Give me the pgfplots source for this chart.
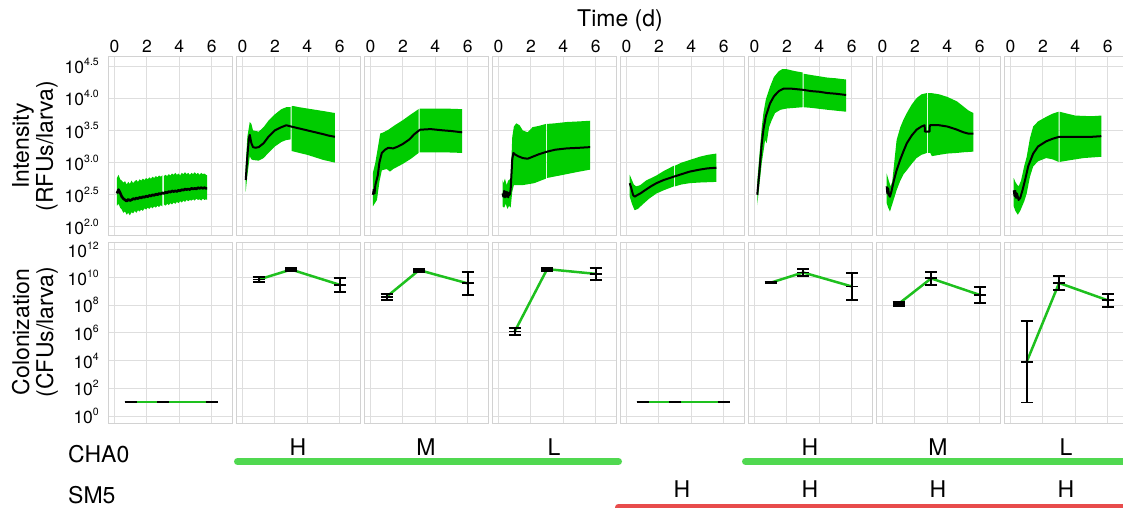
\documentclass[border=0pt]{standalone}
\usepackage{fontspec}
\setmainfont{TeX Gyre Heros}
\usepackage{pgfplots}
\pgfplotsset{compat=1.18}
\usepgfplotslibrary{fillbetween}

\definecolor{bandgreen}{RGB}{0,204,0}
\definecolor{linegreen}{RGB}{30,192,30}
\definecolor{barGreen}{RGB}{80,216,80}
\definecolor{barRed}{RGB}{232,76,76}
\definecolor{bordercol}{RGB}{210,210,210}
\definecolor{gridcol}{RGB}{222,222,222}

\newcommand{\ticksz}{\fontsize{17.5}{18}\selectfont}
\newcommand{\titlesz}{\fontsize{23}{24}\selectfont}
\newcommand{\pw}[1]{10\raisebox{0.46em}{\fontsize{10.5}{11}\selectfont #1}}

\pgfplotsset{
  panel/.style={
    scale only axis, width=124pt,
    xmin=-0.4, xmax=7.25,
    xtick={0,2,4,6},
    /pgf/number format/assume math mode=true,
    axis line style={draw=bordercol, line width=1pt},
    grid=major,
    major grid style={draw=gridcol, line width=1pt},
    major tick length=0pt,
    tick label style={font=\ticksz},
    yticklabel style={inner sep=0pt, xshift=-9pt},
  },
  intensity/.style={panel, height=178pt, ymin=1.875, ymax=4.64,
    ytick={2,2.5,3,3.5,4,4.5}, yticklabels={},
    xticklabel pos=upper,
    xticklabels={0,2,4,6},
    xticklabel style={inner sep=0pt, yshift=4pt}},
  colonization/.style={panel, height=181pt, ymin=-0.5, ymax=12.57,
    ytick={0,2,4,6,8,10,12}, yticklabels={}, xticklabels={}},
  band/.style={bandgreen, draw=none},
  meanline/.style={black, line width=2pt, line join=round},
  cfu/.style={linegreen, line width=2.5pt},
  errb/.style={black, line width=1.9pt, mark=-, mark size=6pt, only marks,
    error bars/.cd, y dir=both, y explicit,
    error mark=|,
    error bar style={line width=1.9pt, black},
    error mark options={black, line width=1.9pt, mark size=6pt}},
}

\begin{document}
\begin{tikzpicture}

% ---------------- Intensity (RFUs/larva), log10 scale ----------------
% Each band is split in two at the reading break near day 3.
% panel 1: control
\begin{axis}[intensity, at={(108pt,-57pt)}, anchor=north west,
  yticklabels={\pw{2.0},\pw{2.5},\pw{3.0},\pw{3.5},\pw{4.0},\pw{4.5}}]
\addplot[name path=u1a, draw=none] coordinates {
(0.15,2.76)(0.25,2.81)(0.35,2.74)(0.45,2.72)(0.55,2.69)(0.65,2.71)(0.75,2.66)(0.85,2.70)(0.95,2.67)(1.05,2.72)
(1.15,2.68)(1.25,2.71)(1.35,2.73)(1.45,2.70)(1.55,2.74)(1.65,2.72)(1.75,2.75)(1.85,2.73)(1.95,2.76)(2.05,2.74)
(2.15,2.77)(2.25,2.75)(2.35,2.78)(2.45,2.76)(2.55,2.79)(2.65,2.77)(2.75,2.80)(2.85,2.78)(2.95,2.80)};
\addplot[name path=l1a, draw=none] coordinates {
(0.15,2.33)(0.25,2.36)(0.35,2.30)(0.45,2.27)(0.55,2.22)(0.65,2.24)(0.75,2.19)(0.85,2.22)(0.95,2.18)(1.05,2.23)
(1.15,2.21)(1.25,2.25)(1.35,2.22)(1.45,2.26)(1.55,2.24)(1.65,2.27)(1.75,2.25)(1.85,2.29)(1.95,2.27)(2.05,2.30)
(2.15,2.28)(2.25,2.31)(2.35,2.29)(2.45,2.32)(2.55,2.30)(2.65,2.33)(2.75,2.31)(2.85,2.34)(2.95,2.32)};
\addplot[name path=u1b, draw=none] coordinates {
(3.05,2.79)(3.15,2.81)(3.25,2.79)(3.35,2.82)(3.45,2.80)(3.55,2.83)(3.65,2.81)(3.75,2.84)(3.85,2.81)(3.95,2.83)(4.05,2.80)
(4.15,2.84)(4.25,2.82)(4.35,2.85)(4.45,2.82)(4.55,2.84)(4.65,2.81)(4.75,2.84)(4.85,2.82)(4.95,2.85)(5.05,2.82)
(5.15,2.84)(5.25,2.81)(5.35,2.84)(5.45,2.82)(5.55,2.83)(5.65,2.81)(5.72,2.80)};
\addplot[name path=l1b, draw=none] coordinates {
(3.05,2.35)(3.15,2.33)(3.25,2.36)(3.35,2.34)(3.45,2.37)(3.55,2.35)(3.65,2.38)(3.75,2.36)(3.85,2.39)(3.95,2.37)(4.05,2.40)
(4.15,2.38)(4.25,2.41)(4.35,2.39)(4.45,2.42)(4.55,2.40)(4.65,2.42)(4.75,2.41)(4.85,2.43)(4.95,2.41)(5.05,2.44)
(5.15,2.42)(5.25,2.43)(5.35,2.41)(5.45,2.44)(5.55,2.42)(5.65,2.43)(5.72,2.42)};
\addplot[band] fill between[of=u1a and l1a];
\addplot[band] fill between[of=u1b and l1b];
\addplot[meanline, line width=2.6pt] coordinates {
(0.15,2.52)(0.25,2.58)(0.35,2.53)(0.45,2.47)(0.55,2.44)(0.65,2.42)(0.75,2.40)(0.85,2.43)(0.95,2.41)(1.05,2.42)
(1.15,2.44)(1.25,2.43)(1.35,2.45)(1.45,2.44)(1.55,2.46)(1.65,2.45)(1.75,2.47)(1.85,2.46)(1.95,2.48)(2.05,2.47)
(2.15,2.49)(2.25,2.48)(2.35,2.50)(2.45,2.49)(2.55,2.51)(2.65,2.50)(2.75,2.52)(2.85,2.51)(2.95,2.53)(3.05,2.52)
(3.15,2.54)(3.25,2.53)(3.35,2.55)(3.45,2.54)(3.55,2.56)(3.65,2.55)(3.75,2.56)(3.85,2.55)(3.95,2.57)(4.05,2.56)
(4.15,2.58)(4.25,2.57)(4.35,2.59)(4.45,2.58)(4.55,2.59)(4.65,2.58)(4.75,2.60)(4.85,2.59)(4.95,2.60)(5.05,2.59)
(5.15,2.61)(5.25,2.60)(5.35,2.61)(5.45,2.60)(5.55,2.61)(5.65,2.60)(5.72,2.60)};
\end{axis}

% panel 2: CHA0 H
\begin{axis}[intensity, at={(236pt,-57pt)}, anchor=north west]
\addplot[name path=u2a, draw=none] coordinates {
(0.2,2.95)(0.3,3.40)(0.45,3.63)(0.55,3.60)(0.65,3.50)(1.0,3.48)(1.3,3.55)(1.6,3.65)(2.0,3.75)(2.4,3.83)
(2.7,3.86)(2.97,3.86)};
\addplot[name path=l2a, draw=none] coordinates {
(0.2,2.55)(0.3,2.80)(0.45,3.10)(0.55,3.05)(0.65,3.04)(1.0,3.03)(1.3,3.07)(1.6,3.15)(2.0,3.25)(2.4,3.32)
(2.7,3.35)(2.97,3.36)};
\addplot[name path=u2b, draw=none] coordinates {
(3.03,3.87)(3.1,3.88)(3.5,3.86)(4.0,3.84)(4.5,3.82)(5.0,3.80)(5.7,3.77)};
\addplot[name path=l2b, draw=none] coordinates {
(3.03,3.18)(3.5,3.15)(4.0,3.12)(4.5,3.08)(5.0,3.04)(5.7,3.00)};
\addplot[band] fill between[of=u2a and l2a];
\addplot[band] fill between[of=u2b and l2b];
\addplot[meanline] coordinates {
(0.2,2.73)(0.3,3.10)(0.4,3.38)(0.45,3.43)(0.55,3.30)(0.65,3.24)(0.8,3.23)(1.0,3.24)(1.3,3.30)(1.6,3.40)
(2.0,3.50)(2.4,3.55)(2.7,3.58)(3.0,3.56)(3.5,3.53)(4.0,3.50)(4.5,3.47)(5.0,3.44)(5.3,3.42)(5.7,3.40)};
\end{axis}

% panel 3: CHA0 M
\begin{axis}[intensity, at={(364pt,-57pt)}, anchor=north west]
\addplot[name path=u3a, draw=none] coordinates {
(0.15,2.84)(0.3,3.00)(0.5,3.30)(0.6,3.45)(0.8,3.47)(1.1,3.51)(1.5,3.58)(2.0,3.66)(2.5,3.75)(2.97,3.83)};
\addplot[name path=l3a, draw=none] coordinates {
(0.15,2.32)(0.3,2.38)(0.4,2.42)(0.55,2.70)(0.7,2.88)(1.0,2.90)(1.2,2.86)(1.4,2.90)(2.0,2.98)(2.5,3.06)
(2.97,3.15)};
\addplot[name path=u3b, draw=none] coordinates {
(3.03,3.84)(3.7,3.84)(4.5,3.84)(5.65,3.83)};
\addplot[name path=l3b, draw=none] coordinates {
(3.03,3.16)(3.5,3.16)(4.5,3.16)(5.65,3.15)};
\addplot[band] fill between[of=u3a and l3a];
\addplot[band] fill between[of=u3b and l3b];
\addplot[meanline] coordinates {
(0.15,2.50)(0.2,2.58)(0.25,2.52)(0.3,2.65)(0.45,2.80)(0.55,3.00)(0.7,3.15)(0.9,3.20)(1.1,3.23)(1.4,3.22)
(1.7,3.25)(2.0,3.29)(2.4,3.36)(2.7,3.44)(3.05,3.51)(3.7,3.52)(4.5,3.50)(5.0,3.49)(5.65,3.47)};
\end{axis}

% panel 4: CHA0 L
\begin{axis}[intensity, at={(492pt,-57pt)}, anchor=north west]
\addplot[name path=u4a, draw=none] coordinates {
(0.25,2.73)(0.3,2.68)(0.4,2.75)(0.5,2.65)(0.6,2.72)(0.75,2.75)(0.85,3.40)(0.95,3.56)(1.1,3.61)(1.3,3.58)
(1.5,3.50)(1.8,3.47)(2.1,3.55)(2.5,3.57)(2.92,3.60)};
\addplot[name path=l4a, draw=none] coordinates {
(0.25,2.32)(0.35,2.30)(0.45,2.36)(0.55,2.28)(0.65,2.33)(0.75,2.30)(0.85,2.55)(0.95,2.65)(1.5,2.65)(2.2,2.68)
(2.92,2.75)};
\addplot[name path=u4b, draw=none] coordinates {
(2.98,3.60)(3.5,3.61)(4.2,3.63)(5.0,3.64)(5.65,3.65)};
\addplot[name path=l4b, draw=none] coordinates {
(2.98,2.76)(4.0,2.81)(5.0,2.86)(5.65,2.89)};
\addplot[band] fill between[of=u4a and l4a];
\addplot[band] fill between[of=u4b and l4b];
\addplot[meanline] coordinates {
(0.25,2.52)(0.3,2.47)(0.35,2.56)(0.4,2.46)(0.45,2.55)(0.5,2.47)(0.55,2.54)(0.6,2.46)(0.65,2.53)(0.7,2.50)
(0.75,2.58)(0.85,3.05)(0.92,3.15)(1.0,3.13)(1.2,3.10)(1.5,3.07)(1.8,3.06)(2.1,3.09)(2.5,3.13)(3.0,3.17)
(3.5,3.20)(4.2,3.22)(5.0,3.23)(5.65,3.24)};
\end{axis}

% panel 5: SM5 H
\begin{axis}[intensity, at={(620pt,-57pt)}, anchor=north west]
\addplot[name path=u5a, draw=none] coordinates {
(0.2,2.81)(0.3,2.75)(0.45,2.66)(0.6,2.63)(0.85,2.65)(1.2,2.72)(1.85,2.80)(2.3,2.87)(2.92,2.95)};
\addplot[name path=l5a, draw=none] coordinates {
(0.2,2.47)(0.35,2.35)(0.5,2.26)(0.7,2.28)(1.0,2.35)(1.4,2.44)(1.85,2.52)(2.3,2.57)(2.92,2.63)};
\addplot[name path=u5b, draw=none] coordinates {
(2.98,2.95)(3.4,3.00)(3.9,3.04)(4.5,3.09)(5.0,3.12)(5.55,3.14)};
\addplot[name path=l5b, draw=none] coordinates {
(2.98,2.63)(3.4,2.66)(3.9,2.68)(4.5,2.69)(5.55,2.70)};
\addplot[band] fill between[of=u5a and l5a];
\addplot[band] fill between[of=u5b and l5b];
\addplot[meanline] coordinates {
(0.2,2.68)(0.3,2.60)(0.4,2.50)(0.5,2.47)(0.7,2.50)(0.85,2.52)(1.2,2.58)(1.5,2.63)(1.85,2.68)(2.3,2.73)
(2.9,2.78)(3.4,2.82)(3.9,2.86)(4.5,2.89)(5.0,2.91)(5.55,2.92)};
\end{axis}

% panel 6: CHA0 H + SM5 H
\begin{axis}[intensity, at={(748pt,-57pt)}, anchor=north west]
\addplot[name path=u6a, draw=none] coordinates {
(0.17,2.70)(0.3,3.10)(0.45,3.55)(0.55,3.77)(0.7,3.98)(0.96,4.18)(1.2,4.33)(1.5,4.42)(1.7,4.45)(2.0,4.45)
(2.5,4.42)(2.97,4.40)};
\addplot[name path=l6a, draw=none] coordinates {
(0.17,2.34)(0.3,2.65)(0.45,3.00)(0.6,3.25)(0.65,3.35)(0.75,3.30)(0.9,3.55)(1.05,3.65)(1.27,3.77)(1.6,3.82)
(2.0,3.84)(2.97,3.86)};
\addplot[name path=u6b, draw=none] coordinates {
(3.03,4.38)(3.5,4.36)(4.0,4.34)(4.5,4.32)(5.0,4.31)(5.65,4.29)};
\addplot[name path=l6b, draw=none] coordinates {
(3.03,3.86)(3.5,3.85)(4.5,3.82)(5.65,3.79)};
\addplot[band] fill between[of=u6a and l6a];
\addplot[band] fill between[of=u6b and l6b];
\addplot[meanline] coordinates {
(0.17,2.50)(0.3,2.85)(0.45,3.30)(0.55,3.51)(0.7,3.72)(0.96,3.92)(1.2,4.03)(1.5,4.11)(1.8,4.15)(2.2,4.15)
(2.6,4.14)(3.0,4.13)(3.5,4.11)(4.0,4.10)(4.5,4.08)(5.0,4.07)(5.65,4.05)};
\end{axis}

% panel 7: CHA0 M + SM5 H
\begin{axis}[intensity, at={(876pt,-57pt)}, anchor=north west]
\addplot[name path=u7a, draw=none] coordinates {
(0.26,2.83)(0.35,2.75)(0.5,2.63)(0.6,2.70)(0.87,3.35)(1.1,3.55)(1.3,3.67)(1.5,3.77)(1.8,3.90)(2.1,4.00)
(2.4,4.06)(2.74,4.08)};
\addplot[name path=l7a, draw=none] coordinates {
(0.26,2.37)(0.35,2.30)(0.46,2.24)(0.6,2.35)(0.87,2.57)(1.1,2.72)(1.3,2.82)(1.5,2.88)(1.8,2.98)(2.1,3.07)
(2.4,3.12)(2.74,3.15)};
\addplot[name path=u7b, draw=none] coordinates {
(2.80,4.08)(3.0,4.08)(3.5,4.06)(4.0,4.02)(4.6,3.95)(5.0,3.87)(5.3,3.81)(5.6,3.77)};
\addplot[name path=l7b, draw=none] coordinates {
(2.80,3.15)(2.95,3.15)(3.05,3.10)(3.5,3.12)(4.0,3.14)(4.6,3.15)(5.0,3.16)(5.6,3.17)};
\addplot[band] fill between[of=u7a and l7a];
\addplot[band] fill between[of=u7b and l7b];
\addplot[meanline] coordinates {
(0.26,2.63)(0.3,2.52)(0.35,2.60)(0.4,2.50)(0.46,2.47)(0.55,2.55)(0.7,2.72)(0.87,2.88)(1.1,3.05)(1.3,3.18)
(1.5,3.30)(1.8,3.42)(2.1,3.51)(2.4,3.56)(2.6,3.58)(2.62,3.48)(2.9,3.48)(2.92,3.58)(3.1,3.58)(3.5,3.58)
(4.0,3.56)(4.5,3.52)(5.0,3.47)(5.3,3.45)(5.6,3.45)};
\end{axis}

% panel 8: CHA0 L + SM5 H
\begin{axis}[intensity, at={(1004pt,-57pt)}, anchor=north west]
\addplot[name path=u8a, draw=none] coordinates {
(0.2,2.76)(0.3,2.70)(0.4,2.66)(0.5,2.63)(0.65,2.72)(0.85,2.95)(1.0,3.09)(1.2,3.38)(1.4,3.56)(1.7,3.64)
(2.2,3.71)(2.6,3.76)(2.97,3.79)};
\addplot[name path=l8a, draw=none] coordinates {
(0.2,2.32)(0.3,2.25)(0.45,2.19)(0.6,2.25)(0.85,2.40)(1.0,2.52)(1.2,2.78)(1.4,2.94)(1.7,3.02)(2.2,3.07)
(2.6,3.05)(2.97,3.01)};
\addplot[name path=u8b, draw=none] coordinates {
(3.03,3.79)(3.5,3.76)(4.0,3.73)(5.0,3.72)(5.6,3.73)};
\addplot[name path=l8b, draw=none] coordinates {
(3.03,3.01)(3.5,3.03)(4.5,3.07)(5.6,3.09)};
\addplot[band] fill between[of=u8a and l8a];
\addplot[band] fill between[of=u8b and l8b];
\addplot[meanline] coordinates {
(0.2,2.57)(0.25,2.48)(0.3,2.56)(0.35,2.45)(0.4,2.52)(0.5,2.42)(0.6,2.45)(0.75,2.58)(0.9,2.73)(1.1,2.95)
(1.4,3.14)(1.7,3.25)(2.2,3.33)(2.6,3.37)(3.0,3.40)(4.0,3.40)(5.0,3.40)(5.6,3.41)};
\end{axis}

% ---------------- Colonization (CFUs/larva), log10 scale ----------------
\begin{axis}[colonization, at={(108pt,-242pt)}, anchor=north west,
  yticklabels={\pw{0},\pw{2},\pw{4},\pw{6},\pw{8},\pw{10},\pw{12}}]
\addplot[cfu] coordinates {(1,1) (3,1) (6,1)};
\addplot[errb] coordinates {(1,1) +- (0,0) (3,1) +- (0,0) (6,1) +- (0,0)};
\end{axis}

\begin{axis}[colonization, at={(236pt,-242pt)}, anchor=north west]
\addplot[cfu] coordinates {(1,9.86) (3,10.58) (6,9.48)};
\addplot[errb] coordinates {(1,9.86) +- (0,0.21) (3,10.58) +- (0,0.12) (6,9.48) +- (0,0.51)};
\end{axis}

\begin{axis}[colonization, at={(364pt,-242pt)}, anchor=north west]
\addplot[cfu] coordinates {(1,8.62) (3,10.54) (6,9.58)};
\addplot[errb] coordinates {(1,8.62) +- (0,0.21) (3,10.54) +- (0,0.12) (6,9.58) +- (0,0.82)};
\end{axis}

\begin{axis}[colonization, at={(492pt,-242pt)}, anchor=north west]
\addplot[cfu] coordinates {(1,6.11) (3,10.61) (6,10.27)};
\addplot[errb] coordinates {(1,6.11) +- (0,0.24) (3,10.61) +- (0,0.12) (6,10.27) +- (0,0.45)};
\end{axis}

\begin{axis}[colonization, at={(620pt,-242pt)}, anchor=north west]
\addplot[cfu] coordinates {(1,1) (3,1) (6,1)};
\addplot[errb] coordinates {(1,1) +- (0,0) (3,1) +- (0,0) (6,1) +- (0,0)};
\end{axis}

\begin{axis}[colonization, at={(748pt,-242pt)}, anchor=north west]
\addplot[cfu] coordinates {(1,9.63) (3,10.37) (6,9.36)};
\addplot[errb] coordinates {(1,9.63) +- (0,0.05) (3,10.37) +- (0,0.26) (6,9.36) +- (0,0.99)};
\end{axis}

\begin{axis}[colonization, at={(876pt,-242pt)}, anchor=north west]
\addplot[cfu] coordinates {(1,8.11) (3,9.94) (6,8.75)};
\addplot[errb] coordinates {(1,8.11) +- (0,0.15) (3,9.94) +- (0,0.48) (6,8.75) +- (0,0.59)};
\end{axis}

\begin{axis}[colonization, at={(1004pt,-242pt)}, anchor=north west]
\addplot[cfu] coordinates {(1,3.92) (3,9.61) (6,8.36)};
\addplot[errb] coordinates {(1,3.92) +- (0,2.94) (3,9.61) +- (0,0.49) (6,8.36) +- (0,0.47)};
\end{axis}

% ---------------- titles ----------------
\node[font=\titlesz, anchor=base] at (620pt,-27pt) {Time (d)};
\node[font=\titlesz, rotate=90, align=center] at (35pt,-146pt) {Intensity\\(RFUs/larva)};
\node[font=\titlesz, rotate=90, align=center] at (35pt,-332pt) {Colonization\\(CFUs/larva)};

% ---------------- treatment key ----------------
\node[font=\titlesz, anchor=base west, inner sep=0pt] at (68pt,-462pt) {CHA0};
\node[font=\titlesz, anchor=base west, inner sep=0pt] at (68pt,-503pt) {SM5};
\foreach \x/\lab in {298/H, 426/M, 554/L, 810/H, 938/M, 1066/L}
  \node[font=\titlesz, anchor=base, inner sep=0pt] at (\x pt,-455pt) {\lab};
\foreach \x in {682, 810, 938, 1066}
  \node[font=\titlesz, anchor=base, inner sep=0pt] at (\x pt,-497pt) {H};
\draw[barGreen, line width=7pt, line cap=round] (237.5pt,-461.5pt) -- (618.5pt,-461.5pt);
\draw[barGreen, line width=7pt, line cap=round] (745.5pt,-461.5pt) -- (1135pt,-461.5pt);
\draw[barRed, line width=7pt, line cap=round] (618.5pt,-507pt) -- (1135pt,-507pt);

\pgfresetboundingbox
\useasboundingbox (0pt,0pt) rectangle (1123pt,-508pt);
\end{tikzpicture}
\end{document}
